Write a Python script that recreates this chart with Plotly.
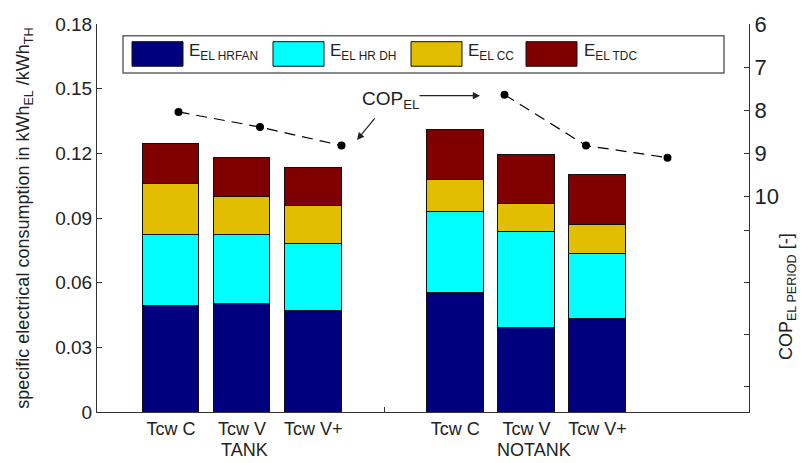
import plotly.graph_objects as go

# ---- data ----
x_pos = [1, 2, 3, 5, 6, 7]
x_labels = ["Tcw C", "Tcw V", "Tcw V+", "", "Tcw C", "Tcw V", "Tcw V+"]
tick_pos = [1, 2, 3, 4, 5, 6, 7]
groups = ["TANK", "NOTANK"]
group_pos = [2.03, 6.1]

e_hrfan = [0.0492, 0.0503, 0.0469, 0.0553, 0.0392, 0.0430]
e_hrdh = [0.0328, 0.0316, 0.0310, 0.0374, 0.0445, 0.0305]
e_cc = [0.0237, 0.0178, 0.0178, 0.0148, 0.0126, 0.0134]
e_tdc = [0.0186, 0.0182, 0.0173, 0.0233, 0.0231, 0.0232]

# COP line (gap between the two groups)
cop_x = [1, 2, 3, 4, 5, 6, 7]
cop_el = [8.04, 8.39, 8.82, None, 7.64, 8.82, 9.10]

series_names = ["E<sub>EL HRFAN</sub>", "E<sub>EL HR DH</sub>", "E<sub>EL CC</sub>", "E<sub>EL TDC</sub>"]
series_vals = [e_hrfan, e_hrdh, e_cc, e_tdc]
colors = ["#00007F", "#00FFFF", "#E2BE00", "#800000"]

left_ticks = [0, 0.03, 0.06, 0.09, 0.12, 0.15, 0.18]
left_ticktext = ["0", "0.03", "0.06", "0.09", "0.12", "0.15", "0.18"]
right_ticks = [6, 7, 8, 9, 10, 10.8, 12, 13.2, 14.4]
right_ticktext = ["6", "7", "8", "9", "10", "", "", "", ""]

FONT = "Liberation Sans, Arial, sans-serif"
TXT = "#222222"

fig = go.Figure()
for name, vals, col in zip(series_names, series_vals, colors):
    fig.add_trace(go.Bar(
        x=x_pos, y=vals, name=name, width=0.8,
        marker=dict(color=col, line=dict(color="#111111", width=1)),
        xaxis="x", yaxis="y", showlegend=False,
    ))

fig.add_trace(go.Scatter(
    x=cop_x, y=cop_el, mode="lines+markers", name="COP<sub>EL</sub>",
    line=dict(color="black", width=1.2, dash="11px,7px"),
    marker=dict(color="black", size=8), connectgaps=False,
    xaxis="x2", yaxis="y2", showlegend=False,
))

fig.update_layout(
    width=803, height=463, autosize=False,
    margin=dict(l=97, r=54, t=17, b=51),
    paper_bgcolor="white", plot_bgcolor="white",
    barmode="stack", bargap=0,
    font=dict(family=FONT, color=TXT, size=16),
    xaxis=dict(
        range=[-0.04, 9.13], tickvals=tick_pos, ticktext=x_labels,
        ticks="inside", ticklen=5, tickcolor="#333", showline=True,
        linecolor="#333", linewidth=1, showgrid=False, zeroline=False,
        layer="below traces", tickfont=dict(size=18, color=TXT),
    ),
    yaxis=dict(
        range=[0, 0.18], tickvals=left_ticks, ticktext=left_ticktext,
        ticks="inside", ticklen=5, tickcolor="#333", showline=True,
        linecolor="#333", linewidth=1, showgrid=False, zeroline=False,
        tickfont=dict(size=19, color=TXT),
        title=dict(text="specific electrical consumption in kWh<sub>EL</sub> /kWh<sub>TH</sub>",
                   font=dict(size=18, color=TXT), standoff=20),
    ),
    xaxis2=dict(range=[0, 8], overlaying="x", visible=False, anchor="y2"),
    yaxis2=dict(
        range=[15, 6], overlaying="y", side="right", anchor="x2",
        tickvals=right_ticks, ticktext=right_ticktext,
        ticks="inside", ticklen=5, tickcolor="#333", showline=True,
        linecolor="#333", linewidth=1, showgrid=False, zeroline=False,
        tickfont=dict(size=22, color=TXT),
    ),
)

# right axis title
fig.add_annotation(
    text="COP<sub>EL PERIOD</sub> [-]", textangle=-90, xref="paper", yref="paper",
    x=1.0, xshift=38, y=(412 - 295) / 395, showarrow=False,
    font=dict(size=18, color=TXT), xanchor="center", yanchor="middle",
)

# group labels
for g, gp in zip(groups, group_pos):
    fig.add_annotation(text=g, x=gp, xref="x", y=0, yref="paper", yshift=-38,
                       showarrow=False, font=dict(size=18, color=TXT),
                       xanchor="center", yanchor="middle")

# manual legend
def px_x(p):
    return (p - 97) / 652

def px_y(p):
    return (412 - p) / 395

fig.add_shape(type="rect", xref="paper", yref="paper",
              x0=px_x(123), x1=px_x(724), y0=px_y(67), y1=px_y(29),
              line=dict(color="#666666", width=1.5), fillcolor="white", layer="above")
sw_left = [132, 273, 411, 526]
txt_left = [187, 328, 466, 582]
for name, col, sl, tl in zip(series_names, colors, sw_left, txt_left):
    fig.add_shape(type="rect", xref="paper", yref="paper",
                  x0=px_x(sl), x1=px_x(sl + 51), y0=px_y(60), y1=px_y(35),
                  line=dict(color="#111111", width=1), fillcolor=col, layer="above")
    fig.add_annotation(text=name, xref="paper", yref="paper",
                       x=px_x(tl), y=px_y(45), showarrow=False,
                       xanchor="left", yanchor="middle",
                       font=dict(size=17, color=TXT))

# COP label and arrows
fig.add_annotation(text="COP<sub>EL</sub>", xref="paper", yref="paper",
                   x=px_x(360), y=px_y(94), showarrow=False,
                   xanchor="left", yanchor="middle", font=dict(size=19, color=TXT))
fig.add_annotation(text="", xref="paper", yref="paper",
                   x=px_x(480), y=px_y(90), ax=-62, ay=0,
                   showarrow=True, arrowhead=2, arrowsize=1.2, arrowwidth=1.2,
                   arrowcolor="#222")
fig.add_annotation(text="", xref="paper", yref="paper",
                   x=px_x(357), y=px_y(135), ax=19, ay=-23,
                   showarrow=True, arrowhead=2, arrowsize=1.2, arrowwidth=1.2,
                   arrowcolor="#222")

fig.write_html("out.html", config={"displayModeBar": False},
               post_script="document.body.style.margin='0';document.body.style.overflow='hidden';")
